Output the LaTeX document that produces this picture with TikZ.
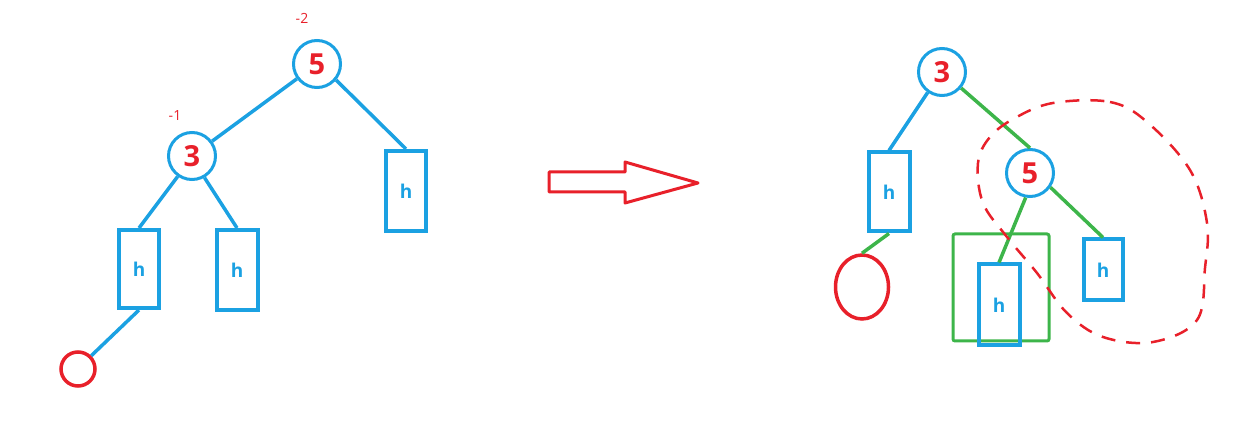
\documentclass[tikz,border=0pt]{standalone}
\usepackage{fontspec}
\setmainfont{Open Sans}
\usetikzlibrary{shapes.geometric}
\definecolor{tblue}{HTML}{1BA1E2}
\definecolor{tred}{HTML}{E8202A}
\definecolor{tgreen}{HTML}{3DB54A}
\begin{document}
\begin{tikzpicture}[x=1pt,y=-1pt,
  keynode/.style={circle,draw=tblue,line width=3pt,minimum size=47pt,inner sep=0pt,text=tred,font=\bfseries\fontsize{29}{29}\selectfont},
  leaf/.style={rectangle,draw=tblue,line width=4pt,inner sep=0pt,text=tblue,font=\bfseries\fontsize{19}{19}\selectfont},
  bal/.style={text=tred,font=\fontsize{14}{14}\selectfont,inner sep=0pt},
  bedge/.style={draw=tblue,line width=3.5pt},
  gedge/.style={draw=tgreen,line width=3.5pt},
  nullnode/.style={draw=tred,line width=3.5pt,inner sep=0pt}]
\useasboundingbox (0,0) rectangle (1255,443);
% left tree
\node[keynode] (L5) at (317,64) {5};
\node[keynode] (L3) at (192,156) {3};
\node[bal] (b2) at (302,18) {-2};
\node[bal] (b1) at (175,116) {-1};
\node[leaf,minimum width=40pt,minimum height=80pt] (LR) at (406,191) {h};
\node[leaf,minimum width=40pt,minimum height=78pt] (LA) at (139,269) {h};
\node[leaf,minimum width=41pt,minimum height=80pt] (LB) at (237,270) {h};
\node[nullnode,circle,minimum size=34pt] (LN) at (78,369) {};
\draw[bedge] (L5) -- (L3);
\draw[bedge] (L5.-40) -- (LR.north);
\draw[bedge] (L3.-125) -- (LA.north);
\draw[bedge] (L3.-60) -- (LB.north);
\draw[bedge] (LA.south) -- (LN.45);
% arrow
\draw[tred,line width=3pt,line join=round] (549,172) -- (625,172) -- (625,162) -- (698,183) -- (625,203) -- (625,192) -- (549,192) -- cycle;
% right tree
\node[keynode] (R3) at (942,72) {3};
\node[keynode] (R5) at (1030,173) {5};
\node[leaf,minimum width=41pt,minimum height=79pt] (RA) at (889,192) {h};
\node[nullnode,ellipse,minimum width=53pt,minimum height=64pt] (RN) at (862,287) {};
\draw[draw=tgreen,line width=3pt,rounded corners=2pt] (953,234) rectangle (1049,341);
\node[leaf,minimum width=41pt,minimum height=81pt] (RB) at (999,305) {h};
\node[leaf,minimum width=39pt,minimum height=61pt] (RC) at (1103,270) {h};
\draw[bedge] (R3.-125) -- (RA.north);
\draw[gedge] (RA.south) -- (RN.north);
\draw[gedge] (R3.-40) -- (R5.north);
\draw[gedge] (R5.-100) -- (RB.north);
\draw[gedge] (R5.-35) -- (RC.north);
% red dashed loop
\draw[tred,line width=2.5pt,dash pattern=on 14pt off 11pt] plot[smooth cycle,tension=0.6] coordinates {
 (1053,103) (1110,102) (1147,122) (1190,170) (1207,223) (1205,268) (1197,320) (1153,342) (1103,337) (1067,313) (1037,273) (1007,237) (983,203) (978,163) (990,137) (1015,118)};
\end{tikzpicture}
\end{document}
